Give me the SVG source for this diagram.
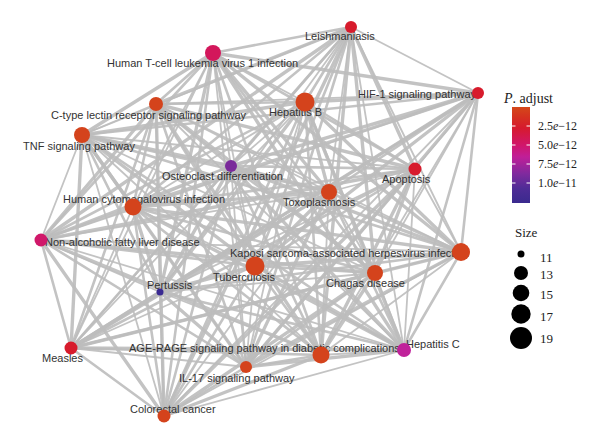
<svg xmlns="http://www.w3.org/2000/svg" width="600" height="444" viewBox="0 0 600 444">
<style>
.e line{stroke:#bdbdbd;stroke-linecap:round;stroke-opacity:0.9}
.a{stroke-width:1.8}
.b{stroke-width:2.6}
.c{stroke-width:3.4}
.lab{font-family:"Liberation Sans",Arial,sans-serif;font-size:11px;fill:#333}
.lg{font-family:"Liberation Serif","Times New Roman",serif;font-size:12px;fill:#222}
.lt{font-size:14px}
.ls{font-size:13px}
.o{fill:#d4431c}.r{fill:#d71b2c}
.tk{stroke:#fff;stroke-width:1}
</style>
<defs>
<linearGradient id="pg" x1="0" y1="0" x2="0" y2="1">
<stop offset="0" stop-color="#d4481a"/>
<stop offset="0.1" stop-color="#d5321f"/>
<stop offset="0.22" stop-color="#d61a2e"/>
<stop offset="0.4" stop-color="#d0166c"/>
<stop offset="0.52" stop-color="#c01f98"/>
<stop offset="0.7" stop-color="#7e2a9e"/>
<stop offset="0.85" stop-color="#4e2c96"/>
<stop offset="1" stop-color="#3a2a8e"/>
</linearGradient>
</defs>
<rect width="600" height="444" fill="#fff"/>
<g id="connectors" class="e">
<line class="b" x1="213" y1="53" x2="351" y2="27"/>
<line class="c" x1="213" y1="53" x2="478" y2="93"/>
<line class="a" x1="213" y1="53" x2="305" y2="102"/>
<line class="b" x1="213" y1="53" x2="156" y2="104"/>
<line class="c" x1="213" y1="53" x2="82" y2="135"/>
<line class="a" x1="213" y1="53" x2="231" y2="166"/>
<line class="b" x1="213" y1="53" x2="415" y2="169"/>
<line class="c" x1="213" y1="53" x2="329" y2="192"/>
<line class="a" x1="213" y1="53" x2="133" y2="207"/>
<line class="b" x1="213" y1="53" x2="41" y2="240"/>
<line class="c" x1="213" y1="53" x2="461" y2="252"/>
<line class="a" x1="213" y1="53" x2="255" y2="266"/>
<line class="b" x1="213" y1="53" x2="375" y2="273"/>
<line class="c" x1="213" y1="53" x2="160" y2="292"/>
<line class="a" x1="213" y1="53" x2="71" y2="348"/>
<line class="b" x1="213" y1="53" x2="321" y2="355"/>
<line class="c" x1="213" y1="53" x2="404" y2="350"/>
<line class="a" x1="213" y1="53" x2="246" y2="367"/>
<line class="b" x1="213" y1="53" x2="164" y2="416"/>
<line class="a" x1="351" y1="27" x2="478" y2="93"/>
<line class="b" x1="351" y1="27" x2="305" y2="102"/>
<line class="c" x1="351" y1="27" x2="156" y2="104"/>
<line class="a" x1="351" y1="27" x2="82" y2="135"/>
<line class="b" x1="351" y1="27" x2="231" y2="166"/>
<line class="c" x1="351" y1="27" x2="415" y2="169"/>
<line class="a" x1="351" y1="27" x2="329" y2="192"/>
<line class="b" x1="351" y1="27" x2="133" y2="207"/>
<line class="c" x1="351" y1="27" x2="41" y2="240"/>
<line class="a" x1="351" y1="27" x2="461" y2="252"/>
<line class="b" x1="351" y1="27" x2="255" y2="266"/>
<line class="c" x1="351" y1="27" x2="375" y2="273"/>
<line class="a" x1="351" y1="27" x2="160" y2="292"/>
<line class="b" x1="351" y1="27" x2="71" y2="348"/>
<line class="c" x1="351" y1="27" x2="321" y2="355"/>
<line class="a" x1="351" y1="27" x2="404" y2="350"/>
<line class="b" x1="351" y1="27" x2="246" y2="367"/>
<line class="c" x1="351" y1="27" x2="164" y2="416"/>
<line class="c" x1="478" y1="93" x2="305" y2="102"/>
<line class="a" x1="478" y1="93" x2="156" y2="104"/>
<line class="b" x1="478" y1="93" x2="82" y2="135"/>
<line class="c" x1="478" y1="93" x2="231" y2="166"/>
<line class="a" x1="478" y1="93" x2="415" y2="169"/>
<line class="b" x1="478" y1="93" x2="329" y2="192"/>
<line class="c" x1="478" y1="93" x2="133" y2="207"/>
<line class="a" x1="478" y1="93" x2="41" y2="240"/>
<line class="b" x1="478" y1="93" x2="461" y2="252"/>
<line class="c" x1="478" y1="93" x2="255" y2="266"/>
<line class="a" x1="478" y1="93" x2="375" y2="273"/>
<line class="b" x1="478" y1="93" x2="160" y2="292"/>
<line class="c" x1="478" y1="93" x2="71" y2="348"/>
<line class="a" x1="478" y1="93" x2="321" y2="355"/>
<line class="b" x1="478" y1="93" x2="404" y2="350"/>
<line class="c" x1="478" y1="93" x2="246" y2="367"/>
<line class="a" x1="478" y1="93" x2="164" y2="416"/>
<line class="b" x1="305" y1="102" x2="156" y2="104"/>
<line class="c" x1="305" y1="102" x2="82" y2="135"/>
<line class="a" x1="305" y1="102" x2="231" y2="166"/>
<line class="b" x1="305" y1="102" x2="415" y2="169"/>
<line class="c" x1="305" y1="102" x2="329" y2="192"/>
<line class="a" x1="305" y1="102" x2="133" y2="207"/>
<line class="b" x1="305" y1="102" x2="41" y2="240"/>
<line class="c" x1="305" y1="102" x2="461" y2="252"/>
<line class="a" x1="305" y1="102" x2="255" y2="266"/>
<line class="b" x1="305" y1="102" x2="375" y2="273"/>
<line class="c" x1="305" y1="102" x2="160" y2="292"/>
<line class="a" x1="305" y1="102" x2="71" y2="348"/>
<line class="b" x1="305" y1="102" x2="321" y2="355"/>
<line class="c" x1="305" y1="102" x2="404" y2="350"/>
<line class="a" x1="305" y1="102" x2="246" y2="367"/>
<line class="b" x1="305" y1="102" x2="164" y2="416"/>
<line class="a" x1="156" y1="104" x2="82" y2="135"/>
<line class="b" x1="156" y1="104" x2="231" y2="166"/>
<line class="c" x1="156" y1="104" x2="415" y2="169"/>
<line class="a" x1="156" y1="104" x2="329" y2="192"/>
<line class="b" x1="156" y1="104" x2="133" y2="207"/>
<line class="c" x1="156" y1="104" x2="41" y2="240"/>
<line class="a" x1="156" y1="104" x2="461" y2="252"/>
<line class="b" x1="156" y1="104" x2="255" y2="266"/>
<line class="c" x1="156" y1="104" x2="375" y2="273"/>
<line class="a" x1="156" y1="104" x2="160" y2="292"/>
<line class="b" x1="156" y1="104" x2="71" y2="348"/>
<line class="c" x1="156" y1="104" x2="321" y2="355"/>
<line class="a" x1="156" y1="104" x2="404" y2="350"/>
<line class="b" x1="156" y1="104" x2="246" y2="367"/>
<line class="c" x1="156" y1="104" x2="164" y2="416"/>
<line class="c" x1="82" y1="135" x2="231" y2="166"/>
<line class="a" x1="82" y1="135" x2="415" y2="169"/>
<line class="b" x1="82" y1="135" x2="329" y2="192"/>
<line class="c" x1="82" y1="135" x2="133" y2="207"/>
<line class="a" x1="82" y1="135" x2="41" y2="240"/>
<line class="b" x1="82" y1="135" x2="461" y2="252"/>
<line class="c" x1="82" y1="135" x2="255" y2="266"/>
<line class="a" x1="82" y1="135" x2="375" y2="273"/>
<line class="b" x1="82" y1="135" x2="160" y2="292"/>
<line class="c" x1="82" y1="135" x2="71" y2="348"/>
<line class="a" x1="82" y1="135" x2="321" y2="355"/>
<line class="b" x1="82" y1="135" x2="404" y2="350"/>
<line class="c" x1="82" y1="135" x2="246" y2="367"/>
<line class="a" x1="82" y1="135" x2="164" y2="416"/>
<line class="b" x1="231" y1="166" x2="415" y2="169"/>
<line class="c" x1="231" y1="166" x2="329" y2="192"/>
<line class="a" x1="231" y1="166" x2="133" y2="207"/>
<line class="b" x1="231" y1="166" x2="41" y2="240"/>
<line class="c" x1="231" y1="166" x2="461" y2="252"/>
<line class="a" x1="231" y1="166" x2="255" y2="266"/>
<line class="b" x1="231" y1="166" x2="375" y2="273"/>
<line class="c" x1="231" y1="166" x2="160" y2="292"/>
<line class="a" x1="231" y1="166" x2="71" y2="348"/>
<line class="b" x1="231" y1="166" x2="321" y2="355"/>
<line class="c" x1="231" y1="166" x2="404" y2="350"/>
<line class="a" x1="231" y1="166" x2="246" y2="367"/>
<line class="b" x1="231" y1="166" x2="164" y2="416"/>
<line class="a" x1="415" y1="169" x2="329" y2="192"/>
<line class="b" x1="415" y1="169" x2="133" y2="207"/>
<line class="c" x1="415" y1="169" x2="41" y2="240"/>
<line class="a" x1="415" y1="169" x2="461" y2="252"/>
<line class="b" x1="415" y1="169" x2="255" y2="266"/>
<line class="c" x1="415" y1="169" x2="375" y2="273"/>
<line class="a" x1="415" y1="169" x2="160" y2="292"/>
<line class="b" x1="415" y1="169" x2="71" y2="348"/>
<line class="c" x1="415" y1="169" x2="321" y2="355"/>
<line class="a" x1="415" y1="169" x2="404" y2="350"/>
<line class="b" x1="415" y1="169" x2="246" y2="367"/>
<line class="c" x1="415" y1="169" x2="164" y2="416"/>
<line class="c" x1="329" y1="192" x2="133" y2="207"/>
<line class="a" x1="329" y1="192" x2="41" y2="240"/>
<line class="b" x1="329" y1="192" x2="461" y2="252"/>
<line class="c" x1="329" y1="192" x2="255" y2="266"/>
<line class="a" x1="329" y1="192" x2="375" y2="273"/>
<line class="b" x1="329" y1="192" x2="160" y2="292"/>
<line class="c" x1="329" y1="192" x2="71" y2="348"/>
<line class="a" x1="329" y1="192" x2="321" y2="355"/>
<line class="b" x1="329" y1="192" x2="404" y2="350"/>
<line class="c" x1="329" y1="192" x2="246" y2="367"/>
<line class="a" x1="329" y1="192" x2="164" y2="416"/>
<line class="b" x1="133" y1="207" x2="41" y2="240"/>
<line class="c" x1="133" y1="207" x2="461" y2="252"/>
<line class="a" x1="133" y1="207" x2="255" y2="266"/>
<line class="b" x1="133" y1="207" x2="375" y2="273"/>
<line class="c" x1="133" y1="207" x2="160" y2="292"/>
<line class="a" x1="133" y1="207" x2="71" y2="348"/>
<line class="b" x1="133" y1="207" x2="321" y2="355"/>
<line class="c" x1="133" y1="207" x2="404" y2="350"/>
<line class="a" x1="133" y1="207" x2="246" y2="367"/>
<line class="b" x1="133" y1="207" x2="164" y2="416"/>
<line class="a" x1="41" y1="240" x2="461" y2="252"/>
<line class="b" x1="41" y1="240" x2="255" y2="266"/>
<line class="c" x1="41" y1="240" x2="375" y2="273"/>
<line class="a" x1="41" y1="240" x2="160" y2="292"/>
<line class="b" x1="41" y1="240" x2="71" y2="348"/>
<line class="c" x1="41" y1="240" x2="321" y2="355"/>
<line class="a" x1="41" y1="240" x2="404" y2="350"/>
<line class="b" x1="41" y1="240" x2="246" y2="367"/>
<line class="c" x1="41" y1="240" x2="164" y2="416"/>
<line class="c" x1="461" y1="252" x2="255" y2="266"/>
<line class="a" x1="461" y1="252" x2="375" y2="273"/>
<line class="b" x1="461" y1="252" x2="160" y2="292"/>
<line class="c" x1="461" y1="252" x2="71" y2="348"/>
<line class="a" x1="461" y1="252" x2="321" y2="355"/>
<line class="b" x1="461" y1="252" x2="404" y2="350"/>
<line class="c" x1="461" y1="252" x2="246" y2="367"/>
<line class="a" x1="461" y1="252" x2="164" y2="416"/>
<line class="b" x1="255" y1="266" x2="375" y2="273"/>
<line class="c" x1="255" y1="266" x2="160" y2="292"/>
<line class="a" x1="255" y1="266" x2="71" y2="348"/>
<line class="b" x1="255" y1="266" x2="321" y2="355"/>
<line class="c" x1="255" y1="266" x2="404" y2="350"/>
<line class="a" x1="255" y1="266" x2="246" y2="367"/>
<line class="b" x1="255" y1="266" x2="164" y2="416"/>
<line class="a" x1="375" y1="273" x2="160" y2="292"/>
<line class="b" x1="375" y1="273" x2="71" y2="348"/>
<line class="c" x1="375" y1="273" x2="321" y2="355"/>
<line class="a" x1="375" y1="273" x2="404" y2="350"/>
<line class="b" x1="375" y1="273" x2="246" y2="367"/>
<line class="c" x1="375" y1="273" x2="164" y2="416"/>
<line class="c" x1="160" y1="292" x2="71" y2="348"/>
<line class="a" x1="160" y1="292" x2="321" y2="355"/>
<line class="b" x1="160" y1="292" x2="404" y2="350"/>
<line class="c" x1="160" y1="292" x2="246" y2="367"/>
<line class="a" x1="160" y1="292" x2="164" y2="416"/>
<line class="b" x1="71" y1="348" x2="321" y2="355"/>
<line class="c" x1="71" y1="348" x2="404" y2="350"/>
<line class="a" x1="71" y1="348" x2="246" y2="367"/>
<line class="b" x1="71" y1="348" x2="164" y2="416"/>
<line class="a" x1="321" y1="355" x2="404" y2="350"/>
<line class="b" x1="321" y1="355" x2="246" y2="367"/>
<line class="c" x1="321" y1="355" x2="164" y2="416"/>
<line class="c" x1="404" y1="350" x2="246" y2="367"/>
<line class="a" x1="404" y1="350" x2="164" y2="416"/>
<line class="b" x1="246" y1="367" x2="164" y2="416"/>
</g>
<g id="nodes">
<g id="n-htlv"><text class="lab" x="107" y="67">Human T-cell leukemia virus 1 infection</text><circle cx="213" cy="53" r="8" fill="#d3175b"/></g>
<g id="n-leish"><text class="lab" x="305" y="40">Leishmaniasis</text><circle class="r" cx="351" cy="27" r="6"/></g>
<g id="n-hif1"><text class="lab" x="358" y="98">HIF-1 signaling pathway</text><circle class="r" cx="478" cy="93" r="6"/></g>
<g id="n-hepb"><text class="lab" x="269" y="116">Hepatitis B</text><circle class="o" cx="305" cy="102" r="9.5"/></g>
<g id="n-ctype"><text class="lab" x="51" y="119">C-type lectin receptor signaling pathway</text><circle class="o" cx="156" cy="104" r="7"/></g>
<g id="n-tnf"><text class="lab" x="23" y="150">TNF signaling pathway</text><circle class="o" cx="82" cy="135" r="8"/></g>
<g id="n-osteo"><text class="lab" x="162" y="180">Osteoclast differentiation</text><circle cx="231" cy="166" r="6" fill="#7a2a9a"/></g>
<g id="n-apop"><text class="lab" x="382" y="183">Apoptosis</text><circle class="r" cx="415" cy="169" r="6.5"/></g>
<g id="n-toxo"><text class="lab" x="283" y="206">Toxoplasmosis</text><circle class="o" cx="329" cy="192" r="8"/></g>
<g id="n-hcmv"><text class="lab" x="63" y="203">Human cytomegalovirus infection</text><circle class="o" cx="133" cy="207" r="8.5"/></g>
<g id="n-nafld"><text class="lab" x="45" y="246">Non-alcoholic fatty liver disease</text><circle cx="41" cy="240" r="6.5" fill="#d0186a"/></g>
<g id="n-kaposi"><text class="lab" x="230" y="257">Kaposi sarcoma-associated herpesvirus infection</text><circle class="o" cx="461" cy="252" r="9"/></g>
<g id="n-tb"><text class="lab" x="213" y="281">Tuberculosis</text><circle class="o" cx="255" cy="266" r="9.5"/></g>
<g id="n-chagas"><text class="lab" x="326" y="287">Chagas disease</text><circle class="o" cx="375" cy="273" r="8"/></g>
<g id="n-pert"><text class="lab" x="147" y="289">Pertussis</text><circle cx="160" cy="292" r="3.5" fill="#3a2a92"/></g>
<g id="n-measles"><text class="lab" x="42" y="362">Measles</text><circle class="r" cx="71" cy="348" r="6.5"/></g>
<g id="n-agerage"><text class="lab" x="129" y="352">AGE-RAGE signaling pathway in diabetic complications</text><circle class="o" cx="321" cy="355" r="8.5"/></g>
<g id="n-hepc"><text class="lab" x="406" y="348">Hepatitis C</text><circle cx="404" cy="350" r="7" fill="#c0229a"/></g>
<g id="n-il17"><text class="lab" x="179" y="382">IL-17 signaling pathway</text><circle class="o" cx="246" cy="367" r="6"/></g>
<g id="n-crc"><text class="lab" x="130" y="413">Colorectal cancer</text><circle class="o" cx="164" cy="416" r="6.5"/></g>
</g>
<g id="legend-color">
<text class="lg lt" x="504" y="103"><tspan font-style="italic">P</tspan>. adjust</text>
<rect x="512" y="107" width="18" height="96" fill="url(#pg)"/>
<path class="tk" d="M512 126h3.5M526.5 126h3.5M512 145h3.5M526.5 145h3.5M512 164h3.5M526.5 164h3.5M512 183h3.5M526.5 183h3.5"/>
<text class="lg" x="538" y="130">2.5<tspan font-style="italic">e</tspan>−12</text>
<text class="lg" x="538" y="149">5.0<tspan font-style="italic">e</tspan>−12</text>
<text class="lg" x="538" y="168">7.5<tspan font-style="italic">e</tspan>−12</text>
<text class="lg" x="538" y="187">1.0<tspan font-style="italic">e</tspan>−11</text>
</g>
<g id="legend-size">
<text class="lg ls" x="515" y="237">Size</text>
<circle cx="521" cy="254" r="3.5" fill="#000"/>
<circle cx="521" cy="273" r="7" fill="#000"/>
<circle cx="521" cy="293" r="8.3" fill="#000"/>
<circle cx="521" cy="314" r="9.7" fill="#000"/>
<circle cx="521" cy="338" r="11" fill="#000"/>
<text class="lg ls" x="540" y="262">11</text>
<text class="lg ls" x="540" y="279">13</text>
<text class="lg ls" x="540" y="299">15</text>
<text class="lg ls" x="540" y="321">17</text>
<text class="lg ls" x="540" y="343">19</text>
</g>
</svg>
